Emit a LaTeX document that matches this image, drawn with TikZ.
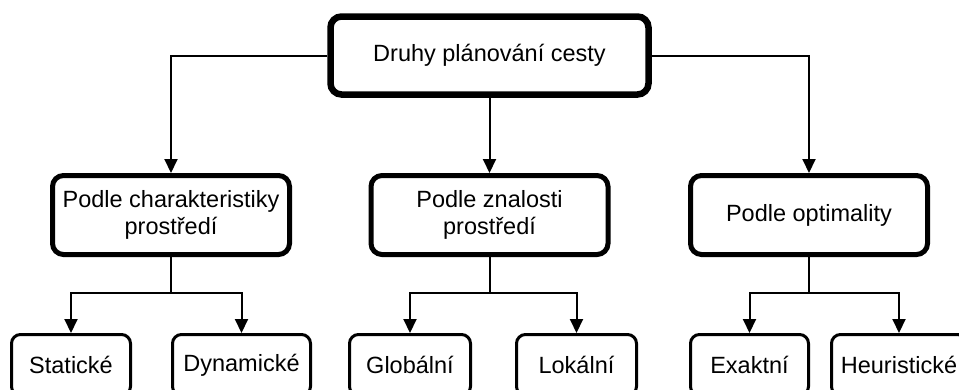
\documentclass[tikz,border=0pt]{standalone}
\usepackage{fontspec}
\setmainfont{Liberation Sans}
\usetikzlibrary{arrows.meta}

\tikzset{
  box/.style={draw=black, fill=white, rectangle, align=center, inner sep=0pt,
    font=\fontsize{23.5}{27}\selectfont},
  rootbox/.style={box, line width=6.5pt, rounded corners=11pt,
    minimum width=318pt, minimum height=78pt},
  groupbox/.style={box, line width=5pt, rounded corners=11pt,
    minimum width=237pt, minimum height=79pt},
  leafbox/.style={box, line width=3pt, rounded corners=9pt, minimum height=61pt},
  link/.style={draw=black, line width=2pt},
  arr/.style={link, -{Triangle[length=14pt, width=13pt]}}
}

\begin{document}
\begin{tikzpicture}[x=1pt, y=-1pt]
  \useasboundingbox (0,0) rectangle (959,389);
  \clip (0,0) rectangle (959,389);

  % root
  \node[rootbox] (root) at (489.5,55.5) {Druhy plánování cesty};

  % second level
  \node[groupbox] (env)  at (171,215) {Podle charakteristiky\\prostředí};
  \node[groupbox] (know) at (489.5,215) {Podle znalosti\\prostředí};
  \node[groupbox] (opt)  at (809,215) {Podle optimality};

  % leaves
  \node[leafbox, minimum width=119pt] (stat) at (71,365)    {Statické};
  \node[leafbox, minimum width=138pt] (dyn)  at (241.5,365) {Dynamické};
  \node[leafbox, minimum width=121pt] (glob) at (410,365)   {Globální};
  \node[leafbox, minimum width=120pt] (lok)  at (576.5,365) {Lokální};
  \node[leafbox, minimum width=118pt] (exa)  at (749.5,365) {Exaktní};
  \node[leafbox, minimum width=135pt] (heu)  at (899,365)   {Heuristické};

  % junctions between second level and leaves
  \coordinate (jenv)  at (171,293);
  \coordinate (jknow) at (489.5,293);
  \coordinate (jopt)  at (809,293);

  % root to second level
  \draw[arr] (root.west) -| (env.north);
  \draw[arr] (root.south) -- (know.north);
  \draw[arr] (root.east) -| (opt.north);

  % second level to leaves
  \draw[link] (env.south) -- (jenv);
  \draw[arr] (jenv) -| (stat.north);
  \draw[arr] (jenv) -| (dyn.north);

  \draw[link] (know.south) -- (jknow);
  \draw[arr] (jknow) -| (glob.north);
  \draw[arr] (jknow) -| (lok.north);

  \draw[link] (opt.south) -- (jopt);
  \draw[arr] (jopt) -| (exa.north);
  \draw[arr] (jopt) -| (heu.north);
\end{tikzpicture}
\end{document}
